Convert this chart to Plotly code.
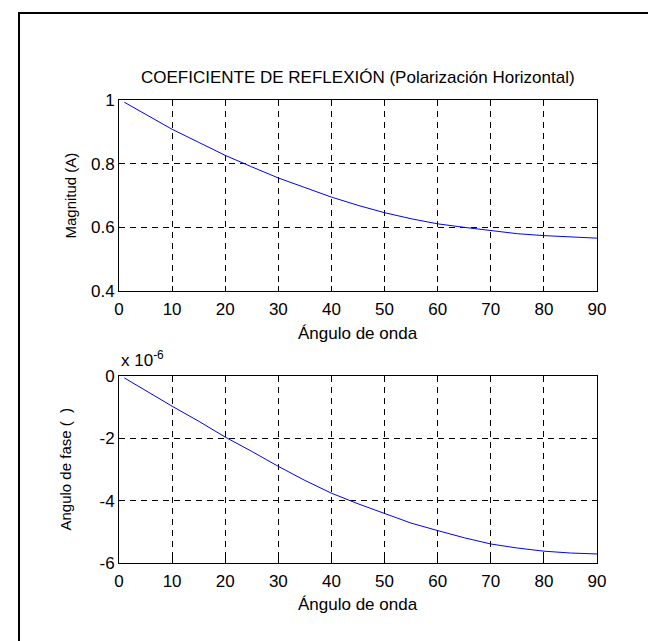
import plotly.graph_objects as go
from plotly.subplots import make_subplots

# angulo de onda (grados)
angulo = [1, 5, 10, 15, 20, 25, 30, 35, 40, 45, 50, 55, 60, 65, 70, 75, 80, 85, 90]
# magnitud del coeficiente de reflexion
magnitud = [0.993, 0.955, 0.908, 0.867, 0.826, 0.790, 0.755, 0.725, 0.695, 0.669,
            0.646, 0.627, 0.611, 0.600, 0.589, 0.580, 0.574, 0.570, 0.566]
# angulo de fase (x 1e-6)
fase = [-0.06, -0.47, -0.97, -1.45, -1.96, -2.42, -2.90, -3.35, -3.76, -4.10,
        -4.42, -4.72, -4.96, -5.19, -5.39, -5.52, -5.62, -5.68, -5.71]

xticks = [0, 10, 20, 30, 40, 50, 60, 70, 80, 90]
yticks_mag = [0.4, 0.6, 0.8, 1]
yticks_fase = [-6, -4, -2, 0]

FONT = "Liberation Sans, Arial, sans-serif"
W, H = 656, 641
L, R, T, B = 111, 67, 92, 86
pw, ph = W - L - R, H - T - B


def px(x):
    return (x - L) / pw


def py(y):
    return (H - B - y) / ph


fig = make_subplots(rows=2, cols=1, vertical_spacing=0.0)
fig.add_trace(go.Scatter(x=angulo, y=magnitud, mode="lines",
                         line=dict(color="#0000ff", width=1)), row=1, col=1)
fig.add_trace(go.Scatter(x=angulo, y=fase, mode="lines",
                         line=dict(color="#0000ff", width=1)), row=2, col=1)

ax = dict(showline=True, linecolor="black", linewidth=1, mirror="allticks",
          ticks="inside", ticklen=5, tickcolor="black", zeroline=False,
          showgrid=True, gridcolor="black", gridwidth=1, griddash="6px,5px",
          tickfont=dict(family=FONT, size=17, color="black"))

fig.update_xaxes(range=[0, 90], tickvals=xticks, ticklabelstandoff=3, **ax)
fig.update_yaxes(ticklabelstandoff=0, **ax)
fig.update_yaxes(range=[0.4, 1], tickvals=yticks_mag, row=1, col=1)
fig.update_yaxes(range=[-6, 0], tickvals=yticks_fase,
                 ticktext=[str(v) for v in yticks_fase], row=2, col=1)

top0 = py(283)
bot1 = py(368)
fig.update_layout(
    xaxis=dict(domain=[0, 1]), yaxis=dict(domain=[top0, 1]),
    xaxis2=dict(domain=[0, 1]), yaxis2=dict(domain=[0, bot1]),
)

ann = []
t = dict(xref="paper", yref="paper", showarrow=False,
         font=dict(family=FONT, size=17, color="black"))
tv = dict(t, font=dict(family=FONT, size=15, color="black"))
ann.append(dict(t, x=0.5, y=1, yanchor="middle", yshift=23,
                text="COEFICIENTE DE REFLEXIÓN (Polarización Horizontal)"))
ann.append(dict(t, x=0.5, y=top0, yanchor="middle", yshift=-42,
                text="Ángulo de onda"))
ann.append(dict(t, x=0.5, y=0, yanchor="middle", yshift=-41,
                text="Ángulo de onda"))
ann.append(dict(tv, x=px(62), y=(top0 + 1) / 2, textangle=-90,
                xanchor="center", yanchor="middle", text="Magnitud (A)"))
ann.append(dict(tv, x=px(57), y=bot1 / 2, textangle=-90,
                xanchor="center", yanchor="middle", text="Angulo de fase (  )"))
ann.append(dict(t, x=0, y=bot1, xanchor="left", yanchor="bottom", yshift=4,
                text="x 10<sup>-6</sup>"))

fig.update_layout(
    width=W, height=H,
    margin=dict(l=L, r=R, t=T, b=B),
    paper_bgcolor="white", plot_bgcolor="white",
    showlegend=False,
    annotations=ann,
    shapes=[dict(type="rect", xref="paper", yref="paper",
                 x0=px(11), x1=px(654), y0=py(639), y1=py(5),
                 line=dict(color="black", width=2))],
)

fig.write_html("out.html")
